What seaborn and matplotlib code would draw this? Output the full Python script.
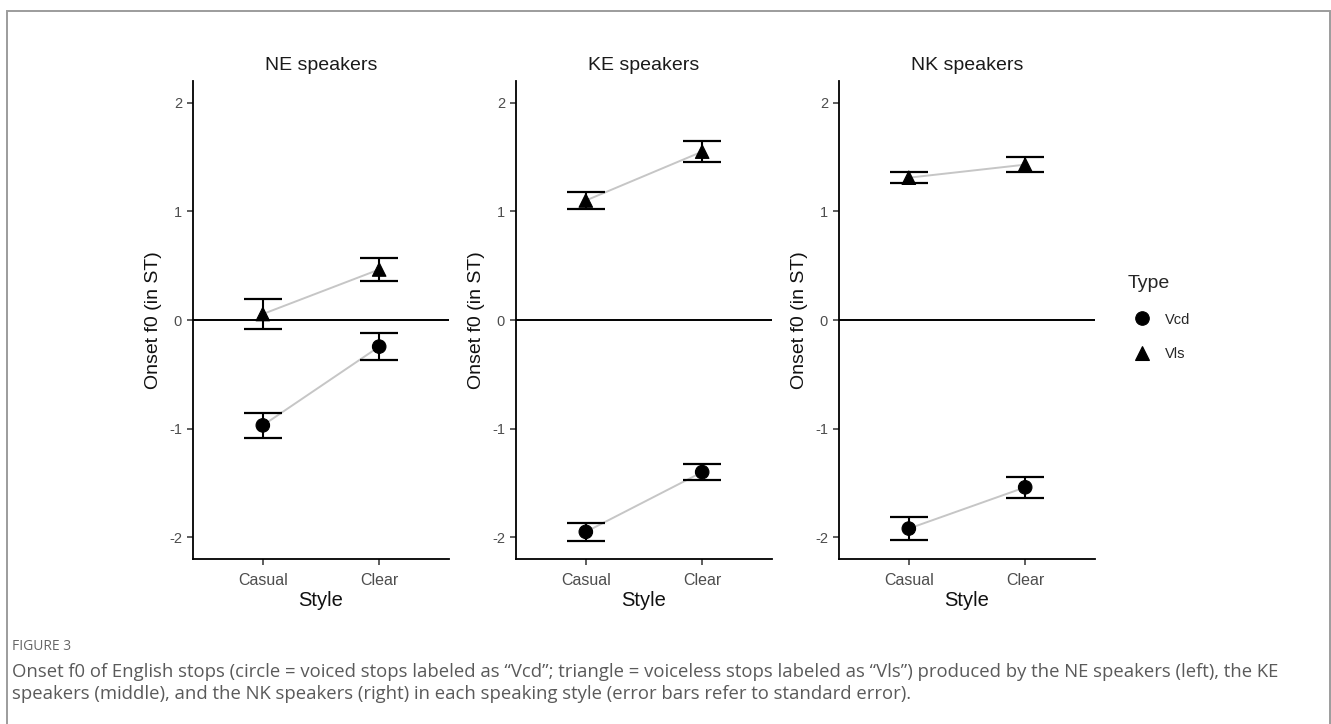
import pandas as pd
import seaborn as sns
import matplotlib.pyplot as plt
from matplotlib.patches import Rectangle

groups = ['NE speakers', 'KE speakers', 'NK speakers']
styles = ['Casual', 'Clear']
types = ['Vcd', 'Vls']

# mean onset f0 (ST) and standard error, per group -> [Casual, Clear]
vcd_mean = [[-0.97, -0.245], [-1.95, -1.40], [-1.92, -1.54]]
vcd_se = [[0.115, 0.125], [0.085, 0.075], [0.105, 0.095]]
vls_mean = [[0.055, 0.465], [1.10, 1.55], [1.31, 1.43]]
vls_se = [[0.135, 0.105], [0.08, 0.10], [0.05, 0.07]]

caption_1 = ("Onset f0 of English stops (circle = voiced stops labeled as \u201cVcd\u201d; "
             "triangle = voiceless stops labeled as \u201cVls\u201d) produced by the NE speakers (left), the KE")
caption_2 = ("speakers (middle), and the NK speakers (right) in each speaking style "
             "(error bars refer to standard error).")

rows = []
for g, grp in enumerate(groups):
    for t, (m, s) in zip(types, [(vcd_mean, vcd_se), (vls_mean, vls_se)]):
        for k, st in enumerate(styles):
            rows.append({'Group': grp, 'Type': t, 'Style': st, 'mean': m[g][k], 'se': s[g][k]})
df = pd.DataFrame(rows)

sns.set_style('ticks')
plt.rcParams['font.family'] = ['Liberation Sans', 'DejaVu Sans']
plt.rcParams['axes.unicode_minus'] = False

W, H = 1331, 724
fig = plt.figure(figsize=(W / 100, H / 100), dpi=100)

lefts = [193, 516, 839]
for i, grp in enumerate(groups):
    ax = fig.add_axes([lefts[i] / W, 1 - 559 / H, 256 / W, (559 - 81) / H])
    sub = df[df['Group'] == grp]

    ax.axhline(0, color='black', lw=1.4, zorder=1)
    sns.lineplot(data=sub, x='Style', y='mean', units='Type', estimator=None,
                 color='#c6c6c6', lw=1.4, sort=False, legend=False, ax=ax, zorder=2)
    for t in types:
        d = sub[sub['Type'] == t]
        ax.errorbar(d['Style'], d['mean'], yerr=d['se'], fmt='none', ecolor='black',
                    elinewidth=1.5, capsize=13.5, capthick=1.6, zorder=3)
    sns.scatterplot(data=sub, x='Style', y='mean', style='Type', style_order=types,
                    markers={'Vcd': 'o', 'Vls': '^'}, color='black', edgecolor='black',
                    s=95, ax=ax, zorder=4, legend=(i == 2))

    ax.set_xlim(-0.6, 1.6)
    ax.set_ylim(-2.2, 2.2)
    ax.set_yticks([-2, -1, 0, 1, 2])
    for sp in ['top', 'right']:
        ax.spines[sp].set_visible(False)
    for sp in ['left', 'bottom']:
        ax.spines[sp].set_linewidth(1.3)
        ax.spines[sp].set_color('black')
    ax.tick_params(length=4, width=1.1, color='#333333', labelcolor='#4d4d4d')
    ax.tick_params(axis='x', labelsize=11.5, pad=6)
    ax.tick_params(axis='y', labelsize=10.5, pad=4)
    ax.set_title(grp, fontsize=14, color='#1a1a1a', pad=8)
    ax.set_xlabel('Style', fontsize=14.5, color='#111111', labelpad=2)
    ax.set_ylabel('Onset f0 (in ST)', fontsize=14, color='#111111', labelpad=5)

    if i == 2:
        h, l = ax.get_legend_handles_labels()
        ax.get_legend().remove()
        leg = ax.legend(h, l, title='Type', loc='upper left',
                        bbox_to_anchor=(1114 / W, 1 - 262 / H), bbox_transform=fig.transFigure,
                        frameon=False, fontsize=10.5, title_fontsize=14,
                        handletextpad=0.6, labelspacing=1.4, markerscale=1.0)
        leg._legend_box.align = 'left'

fig.add_artist(Rectangle((7 / W, -0.02), (1330 - 7) / W, 1 - 11 / H + 0.02,
                         transform=fig.transFigure, fill=False, edgecolor='#9c9c9c', lw=1.4))
fig.text(12 / W, 1 - 647 / H, 'FIGURE 3', fontsize=10, color='#666666', va='center',
         family=['Open Sans', 'DejaVu Sans'])
fig.text(12 / W, 1 - 672 / H, caption_1, fontsize=13.3, color='#5a5a5a', va='center',
         family=['Open Sans', 'DejaVu Sans'])
fig.text(12 / W, 1 - 694 / H, caption_2, fontsize=13.3, color='#5a5a5a', va='center',
         family=['Open Sans', 'DejaVu Sans'])

plt.savefig('out.png', dpi=100)
